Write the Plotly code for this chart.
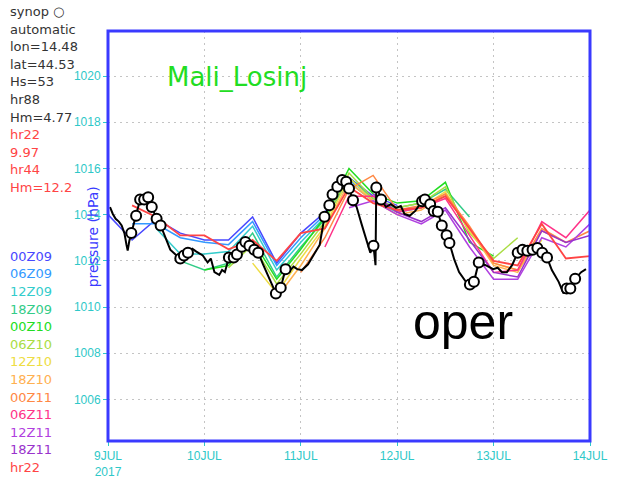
import plotly.graph_objects as go

# ---------------------------------------------------------------------------
# Data: hours since 9 JUL 2017 00Z, mean sea level pressure in hPa
# ---------------------------------------------------------------------------
obs_hours = [0.5, 1.2, 1.9, 2.7, 3.4, 4.1, 4.6, 4.9, 5.3, 5.8, 7.0, 8.0, 9.0, 10.0,
             10.9, 12.1, 13.1, 14.3, 15.5, 16.8, 18.0, 18.9, 19.9, 21.0, 22.0, 23.6,
             24.8, 25.6, 26.5, 27.7, 28.4, 29.1, 30.1, 31.3, 32.1, 33.3, 34.2, 35.2,
             36.4, 37.4, 38.6, 39.8, 41.0, 41.8, 43.0, 44.2, 45.4, 46.2, 47.1, 48.3,
             49.8, 51.5, 52.7, 53.9, 55.1, 55.9, 57.1, 58.3, 59.3, 60.0, 61.0, 61.9,
             63.1, 64.4, 65.3, 66.1, 66.6, 66.8, 67.0, 68.0, 69.2, 70.4, 71.7, 72.9,
             73.8, 75.1, 76.5, 78.2, 78.9, 80.2, 81.1, 82.1, 83.1, 84.3, 85.0, 86.2,
             87.4, 89.1, 90.1, 91.1, 92.3, 94.0, 95.9, 97.0, 98.1, 99.3, 100.6, 102.0,
             103.2, 104.4, 105.7, 106.9, 108.1, 109.3, 110.5, 112.2, 113.4, 114.2,
             115.1, 116.3, 117.8, 119.0]
obs_hpa = [1014.33, 1014.03, 1013.82, 1013.70, 1013.53, 1013.19, 1012.69, 1012.44,
           1012.86, 1013.20, 1013.95, 1014.66, 1014.66, 1014.75, 1014.33, 1013.82,
           1013.53, 1012.98, 1012.48, 1012.27, 1012.10, 1012.23, 1012.35, 1012.52,
           1012.40, 1012.23, 1011.93, 1012.10, 1011.51, 1011.39, 1011.60, 1011.51,
           1012.14, 1012.14, 1012.27, 1012.61, 1012.82, 1012.65, 1012.48, 1012.35,
           1011.85, 1011.39, 1010.88, 1010.59, 1010.84, 1011.64, 1011.60, 1011.75,
           1011.64, 1011.60, 1011.85, 1012.35, 1012.69, 1013.91, 1014.41, 1014.87,
           1015.21, 1015.50, 1015.42, 1015.13, 1014.62, 1014.33, 1013.61, 1012.90,
           1012.35, 1012.65, 1011.81, 1015.42, 1015.17, 1014.66, 1014.33, 1014.45,
           1014.29, 1014.37, 1014.03, 1013.95, 1014.16, 1014.58, 1014.66, 1014.45,
           1014.16, 1014.12, 1013.53, 1013.11, 1012.77, 1012.06, 1011.51, 1011.09,
           1010.97, 1011.09, 1011.93, 1011.81, 1011.64, 1011.70, 1011.51, 1011.51,
           1011.81, 1012.35, 1012.48, 1012.44, 1012.48, 1012.56, 1012.35, 1012.14,
           1011.60, 1011.09, 1010.59, 1010.80, 1010.80, 1011.22, 1011.51, 1011.64]

synop_hours = [5.8, 7.0, 8.0, 9.0, 10.0, 10.9, 12.1, 13.1, 18.0, 18.9, 19.9, 30.1,
               31.3, 32.1, 33.3, 34.2, 35.2, 36.4, 37.4, 41.8, 43.0, 44.2, 53.9,
               55.1, 55.9, 57.1, 58.3, 59.3, 60.0, 61.0, 66.1, 66.8, 68.0, 78.2,
               78.9, 80.2, 81.1, 82.1, 83.1, 84.3, 85.0, 90.1, 91.1, 92.3, 102.0,
               103.2, 104.4, 105.7, 106.9, 108.1, 109.3, 114.2, 115.1, 116.3]
synop_hpa = [1013.20, 1013.95, 1014.66, 1014.66, 1014.75, 1014.33, 1013.82, 1013.53,
             1012.10, 1012.23, 1012.35, 1012.14, 1012.14, 1012.27, 1012.61, 1012.82,
             1012.65, 1012.48, 1012.35, 1010.59, 1010.84, 1011.64, 1013.91, 1014.41,
             1014.87, 1015.21, 1015.50, 1015.42, 1015.13, 1014.62, 1012.65, 1015.17,
             1014.66, 1014.58, 1014.66, 1014.45, 1014.16, 1014.12, 1013.53, 1013.11,
             1012.77, 1010.97, 1011.09, 1011.93, 1012.35, 1012.48, 1012.44, 1012.48,
             1012.56, 1012.35, 1012.14, 1010.80, 1010.80, 1011.22]

# Ensemble runs, 6-hourly values starting at the run's initial time
run_names = ["00Z09", "06Z09", "12Z09", "18Z09", "00Z10", "06Z10",
             "12Z10", "18Z10", "00Z11", "06Z11", "12Z11", "18Z11"]
run_start = [0, 6, 12, 18, 24, 30, 36, 42, 48, 54, 60, 66]
run_colors = ["#4848ff", "#3399ff", "#33cccc", "#33cc88", "#22dd22", "#aadd44",
              "#eedd44", "#ffb050", "#ff8844", "#ff3388", "#b040e0", "#9933cc"]

run_00Z09 = [1014.0, 1012.9, 1013.8, 1013.2, 1012.9, 1012.9, 1013.9, 1011.9, 1013.2,
             1014.1, 1015.6, 1014.8, 1014.4]
run_06Z09 = [1013.6, 1013.6, 1013.0, 1012.8, 1012.7, 1013.7, 1011.8, 1013.0, 1014.0,
             1015.5, 1014.7, 1014.2, 1014.3]
run_12Z09 = [1013.4, 1012.3, 1012.3, 1012.4, 1013.5, 1011.6, 1012.8, 1013.9, 1015.4,
             1014.6, 1014.1, 1014.3, 1014.8]
run_18Z09 = [1012.0, 1011.6, 1011.9, 1013.2, 1011.3, 1012.6, 1013.8, 1015.6, 1014.7,
             1014.3, 1014.5, 1015.1, 1013.9]
run_00Z10 = [1011.6, 1011.8, 1012.9, 1011.2, 1012.5, 1013.9, 1016.0, 1014.9, 1014.5,
             1014.6, 1015.4, 1012.8, 1012.2]
run_06Z10 = [1011.7, 1012.7, 1011.0, 1012.3, 1013.7, 1015.8, 1014.7, 1014.3, 1014.5,
             1015.2, 1013.2, 1012.1, 1013.0]
run_12Z10 = [1011.9, 1010.6, 1012.1, 1013.5, 1015.6, 1014.6, 1014.2, 1014.3, 1015.0,
             1013.3, 1011.9, 1011.6, 1012.9]
run_18Z10 = [1010.4, 1011.8, 1013.4, 1015.4, 1014.6, 1014.0, 1014.2, 1014.9, 1013.4,
             1011.8, 1011.5, 1013.3, 1012.8]
run_00Z11 = [1011.5, 1013.0, 1015.1, 1015.7, 1014.2, 1014.4, 1014.9, 1013.5, 1011.9,
             1011.6, 1013.4, 1012.8, 1013.3]
run_06Z11 = [1012.6, 1014.8, 1014.8, 1014.1, 1014.3, 1014.7, 1013.1, 1011.5, 1011.6,
             1013.7, 1013.0, 1014.2]
run_12Z11 = [1014.3, 1014.6, 1014.0, 1013.6, 1014.2, 1012.6, 1011.2, 1011.2, 1013.0,
             1012.6, 1013.6]
run_18Z11 = [1014.9, 1014.1, 1013.7, 1014.3, 1012.9, 1011.5, 1011.3, 1013.3, 1012.8,
             1013.1]
run_values = [run_00Z09, run_06Z09, run_12Z09, run_18Z09, run_00Z10, run_06Z10,
              run_12Z10, run_18Z10, run_00Z11, run_06Z11, run_12Z11, run_18Z11]

# hr22 reference forecast
hr22_start = 6
hr22_hpa = [1014.4, 1013.9, 1013.1, 1013.1, 1012.5, 1012.9, 1012.0, 1013.2, 1013.4,
            1015.2, 1014.5, 1014.2, 1014.3, 1014.8, 1013.4, 1012.0, 1011.8, 1013.6,
            1012.1, 1012.2]

tick_hours = [0, 24, 48, 72, 96, 120]
tick_text = ["9JUL<br>2017", "10JUL", "11JUL", "12JUL", "13JUL", "14JUL"]
y_ticks = [1006, 1008, 1010, 1012, 1014, 1016, 1018, 1020]

info_lines = ["synop ○", "automatic", "lon=14.48", "lat=44.53", "Hs=53", "hr88",
              "Hm=4.77", "hr22", "9.97", "hr44", "Hm=12.2"]
info_colors = ["#333333"] * 7 + ["#ff4444"] * 4

# ---------------------------------------------------------------------------
W, H = 620, 491
ML, MR, MT, MB = 108, 18, 31, 38
PW, PH = W - ML - MR, H - MT - MB


def px_x(x):
    return (x - ML) / PW


def px_y(y):
    return (H - MB - y) / PH


fig = go.Figure()

for name, start, color, vals in zip(run_names, run_start, run_colors, run_values):
    hours = [start + 6 * i for i in range(len(vals))]
    fig.add_trace(go.Scatter(x=hours, y=vals, mode="lines", name=name,
                             line=dict(color=color, width=1.5), hoverinfo="skip"))

hr22_hours = [hr22_start + 6 * i for i in range(len(hr22_hpa))]
fig.add_trace(go.Scatter(x=hr22_hours, y=hr22_hpa, mode="lines", name="hr22",
                         line=dict(color="#ff4444", width=1.8)))

fig.add_trace(go.Scatter(x=obs_hours, y=obs_hpa, mode="lines", name="automatic",
                         line=dict(color="black", width=2)))
fig.add_trace(go.Scatter(x=synop_hours, y=synop_hpa, mode="markers", name="synop",
                         marker=dict(symbol="circle", size=10, color="white",
                                     line=dict(color="black", width=2))))

tick_font = dict(family="Liberation Sans, Arial, sans-serif", size=12, color="#2ec8c8")
grid = dict(showgrid=True, gridcolor="#c4c4c4", griddash="2px,4px", gridwidth=1,
            ticks="outside", ticklen=4, tickcolor="#2ec8c8", tickfont=tick_font,
            zeroline=False, showline=False)
fig.update_xaxes(range=[0, 120], tickvals=tick_hours, ticktext=tick_text, **grid)
fig.update_yaxes(range=[1004.2, 1021.95], tickvals=y_ticks, **grid)

# plot frame
fig.add_shape(type="rect", xref="paper", yref="paper", x0=0, y0=0, x1=1, y1=1,
              line=dict(color="#3a3aff", width=3), layer="above")

ann = []
# station info block
for i, (txt, col) in enumerate(zip(info_lines, info_colors)):
    ann.append(dict(text=txt, x=px_x(6), y=px_y(11 + 18.1 * i), xanchor="left",
                    yanchor="middle", font=dict(family="DejaVu Sans", size=13, color=col)))
# run legend
for i, (txt, col) in enumerate(zip(run_names + ["hr22"], run_colors + ["#ff4444"])):
    ann.append(dict(text=txt, x=px_x(6), y=px_y(263 + 18.1 * i), xanchor="left",
                    yanchor="middle", font=dict(family="DejaVu Sans", size=13, color=col)))
# axis title
ann.append(dict(text="pressure (hPa)", x=px_x(93), y=px_y(243), textangle=-90,
                xanchor="center", yanchor="middle",
                font=dict(family="DejaVu Sans", size=14, color="#3a3aff")))
# station name and model label
ann.append(dict(text="Mali_Losinj", x=px_x(240), y=px_y(78), xanchor="center",
                yanchor="middle", font=dict(family="DejaVu Sans", size=26, color="#22dd22")))
ann.append(dict(text="oper", x=px_x(472), y=px_y(331), xanchor="center",
                yanchor="middle", font=dict(family="Liberation Sans", size=50, color="black")))
for a in ann:
    a.update(xref="paper", yref="paper", showarrow=False)

fig.update_layout(width=W, height=H, margin=dict(l=ML, r=MR, t=MT, b=MB),
                  paper_bgcolor="white", plot_bgcolor="white", showlegend=False,
                  annotations=ann)

fig.write_html("out.html")
